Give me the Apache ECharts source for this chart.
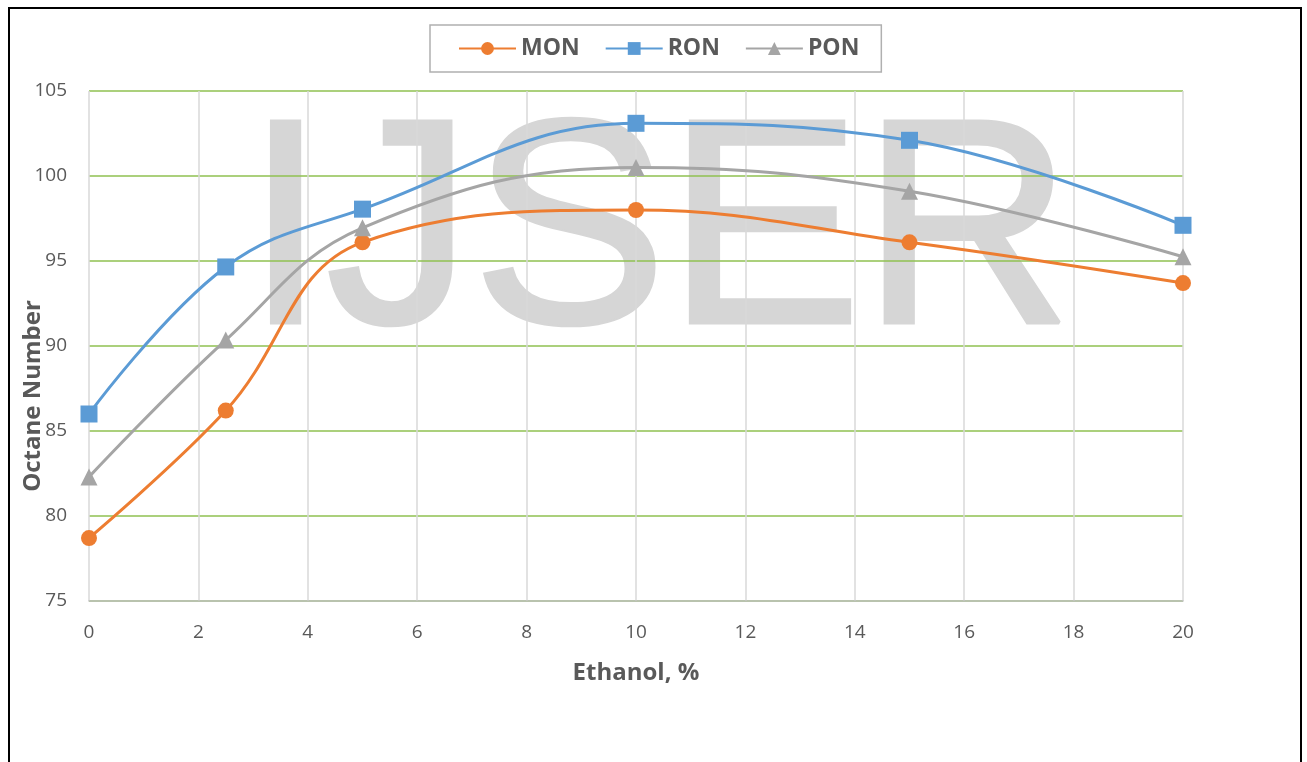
<!DOCTYPE html>
<html>
<head>
<meta charset="utf-8">
<script src="https://cdn.jsdelivr.net/npm/echarts@6/dist/echarts.min.js"></script>
<style>
html,body{margin:0;padding:0;background:#fff;}
#frame{position:absolute;left:8px;top:7px;width:1290px;height:770px;border-left:2px solid #000;border-top:2px solid #000;border-right:2px solid #000;}
#chart{position:absolute;left:0;top:0;width:1307px;height:762px;}
</style>
</head>
<body>
<div id="frame"></div>
<div id="chart"></div>
<script>
const ethanol = [0, 2.5, 5, 10, 15, 20];
const mon = [78.7, 86.2, 96.1, 98.0, 96.1, 93.7];
const ron = [86.0, 94.65, 98.05, 103.1, 102.1, 97.1];
const pon = [82.3, 90.35, 96.95, 100.5, 99.1, 95.25];
const seriesNames = ['MON', 'RON', 'PON'];
const colors = ['#ED7D31', '#5B9BD5', '#A5A5A5'];
const symbols = ['circle', 'rect', 'triangle'];
const values = [mon, ron, pon];

const font = '"Open Sans", Lato, sans-serif';
const chart = echarts.init(document.getElementById('chart'));
chart.setOption({
  animation: false,
  backgroundColor: 'transparent',
  graphic: [{
    type: 'text',
    left: 243,
    top: 94,
    z: 0,
    style: {
      text: 'IJSER',
      fontSize: 292,
      fontFamily: '"Liberation Sans", Arial, sans-serif',
      fill: '#d6d6d6',
      stroke: '#d6d6d6',
      lineWidth: 4
    }
  }],
  legend: {
    top: 25,
    left: 430,
    data: seriesNames,
    itemWidth: 57,
    itemHeight: 16,
    itemGap: 25,
    padding: [12, 22, 12, 28],
    borderColor: '#b0b0b0',
    borderWidth: 1.5,
    textStyle: {color: '#595959', fontSize: 23, fontWeight: 'bold', fontFamily: font}
  },
  grid: {left: 89, right: 124, top: 91, bottom: 161, outerBoundsMode: 'none', containLabel: false},
  xAxis: {
    type: 'value',
    min: 0, max: 20, interval: 2,
    name: 'Ethanol, %',
    nameLocation: 'middle',
    nameGap: 60,
    nameMoveOverlap: false,
    nameTextStyle: {color: '#595959', fontSize: 24, fontWeight: 'bold', fontFamily: font},
    axisLine: {show: true, lineStyle: {color: '#bfbfbf', width: 1.5}},
    axisTick: {show: false},
    axisLabel: {color: '#595959', fontSize: 19, margin: 22, fontFamily: font},
    splitLine: {show: true, lineStyle: {color: '#d9d9d9', width: 1.5}}
  },
  yAxis: {
    type: 'value',
    min: 75, max: 105, interval: 5,
    name: 'Octane Number',
    nameLocation: 'middle',
    nameGap: 44,
    nameMoveOverlap: false,
    nameTextStyle: {color: '#595959', fontSize: 24, fontWeight: 'bold', fontFamily: font, padding: [0, 100, 0, 0]},
    axisLine: {show: false},
    axisTick: {show: false},
    axisLabel: {color: '#595959', fontSize: 19, margin: 22, fontFamily: font},
    splitLine: {show: true, lineStyle: {color: '#8fc050', width: 1.5}}
  },
  series: seriesNames.map((n, i) => ({
    name: n,
    type: 'line',
    smooth: 0.4,
    z: 3,
    data: ethanol.map((x, j) => [x, values[i][j]]),
    symbol: symbols[i],
    symbolSize: i === 0 ? 16 : 17,
    showAllSymbol: true,
    lineStyle: {color: colors[i], width: 3},
    itemStyle: {color: colors[i]}
  }))
});
</script>
</body>
</html>
